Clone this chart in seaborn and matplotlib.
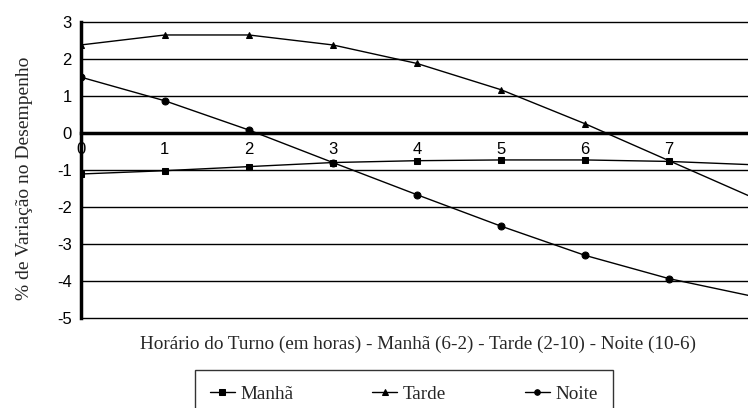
import numpy as np
import pandas as pd
import matplotlib
matplotlib.use("Agg")
import matplotlib.pyplot as plt
import seaborn as sns

# =========================== DATA ===========================
horas = [0, 1, 2, 3, 4, 5, 6, 7, 8]
manha = [-1.11, -1.02, -0.91, -0.80, -0.75, -0.73, -0.73, -0.77, -0.86]
tarde = [2.38, 2.65, 2.65, 2.38, 1.88, 1.17, 0.25, -0.75, -1.75]
noite = [1.51, 0.87, 0.08, -0.80, -1.67, -2.52, -3.31, -3.94, -4.42]
series_names = ["Manhã", "Tarde", "Noite"]
y_ticks = [-5, -4, -3, -2, -1, 0, 1, 2, 3]
x_ticks = [0, 1, 2, 3, 4, 5, 6, 7]

df = pd.DataFrame({
    "Hora": horas * 3,
    "Valor": manha + tarde + noite,
    "Turno": [s for s in series_names for _ in horas],
})

# =========================== GRAPHICS ===========================
sns.set_style("white")
plt.rcParams["font.family"] = ["Liberation Serif", "DejaVu Serif"]
plt.rcParams["axes.unicode_minus"] = False

fig = plt.figure(figsize=(7.48, 4.08), dpi=100)
ax = fig.add_axes([0.108, 0.221, 0.892, 0.725])

markers = {"Manhã": "s", "Tarde": "^", "Noite": "o"}
for name in series_names:
    sub = df[df["Turno"] == name]
    sns.lineplot(data=sub, x="Hora", y="Valor", ax=ax, color="black",
                 linewidth=1.0, marker=markers[name], markersize=5,
                 markeredgecolor="black", label=name, legend=False)

ax.set_xlim(0, 7.94)
ax.set_ylim(-5, 3)
ax.set_yticks(y_ticks)
ax.set_xticks(x_ticks)
for v in y_ticks:
    if v != 0:
        ax.axhline(v, color="black", linewidth=1.0, zorder=0, clip_on=False)

for s in ["top", "right"]:
    ax.spines[s].set_visible(False)
ax.spines["left"].set_linewidth(2.5)
ax.spines["left"].set_color("black")
ax.spines["bottom"].set_position(("data", 0))
ax.spines["bottom"].set_linewidth(2.5)
ax.spines["bottom"].set_color("black")

ax.tick_params(axis="both", direction="out", length=3, width=1.5, colors="black",
               labelsize=12)
for lab in ax.get_xticklabels() + ax.get_yticklabels():
    lab.set_family("Liberation Sans")

ax.set_ylabel("% de Variação no Desempenho", fontsize=14)
ax.yaxis.set_label_coords(-0.071, 0.47)
ax.set_xlabel("")
fig.text(0.559, 0.157, "Horário do Turno (em horas) - Manhã (6-2) - Tarde (2-10) - Noite (10-6)",
         ha="center", va="center", fontsize=13.8)

handles, labels = ax.get_legend_handles_labels()
leg = fig.legend(handles, labels, loc="upper center", bbox_to_anchor=(0.54, 0.093),
                 ncol=3, frameon=True, fancybox=False, edgecolor="black",
                 fontsize=13.8, handlelength=1.3, columnspacing=4.1,
                 borderpad=0.8, borderaxespad=0, handletextpad=0.3, markerscale=0.8)
leg.get_frame().set_linewidth(1.0)

fig.savefig("out.png", dpi=100)
